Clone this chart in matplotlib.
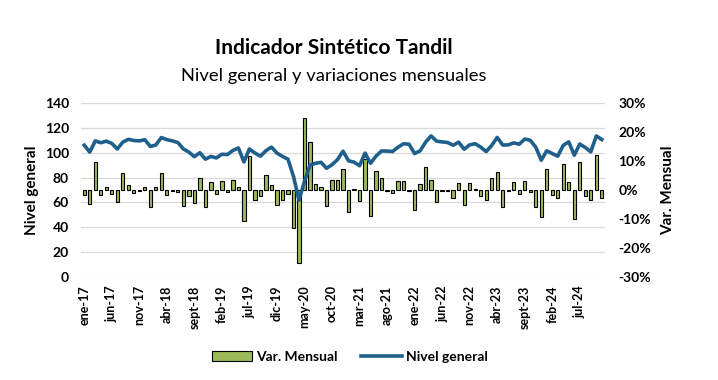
import numpy as np
import matplotlib
matplotlib.use("Agg")
import matplotlib.pyplot as plt
from matplotlib.patches import Patch
from matplotlib.lines import Line2D

# monthly data, ene-17 .. nov-24
meses = ["ene", "feb", "mar", "abr", "may", "jun", "jul", "ago", "sept", "oct", "nov", "dic"]
labels = [f"{meses[i % 12]}-{17 + i // 12}" for i in range(95)]

nivel_general = [
    106.0, 100.5, 109.5, 108.0, 109.3, 107.5, 103.0, 108.5, 110.8, 109.8,
    109.5, 110.5, 105.0, 106.2, 112.2, 110.5, 109.5, 108.2, 103.0, 100.5,
    96.8, 100.0, 94.8, 97.0, 95.8, 98.8, 98.5, 101.8, 103.8, 92.6,
    103.0, 99.7, 97.2, 101.6, 104.5, 99.7, 97.0, 94.8, 81.0, 61.8,
    77.0, 90.0, 91.5, 92.3, 87.5, 90.3, 94.5, 101.2, 93.5, 92.4,
    89.5, 99.7, 91.5, 97.3, 101.4, 101.3, 101.0, 104.5, 107.2, 106.8,
    99.3, 101.5, 108.5, 113.5, 109.3, 108.7, 108.2, 106.0, 108.5, 102.8,
    106.3, 107.2, 104.5, 100.9, 105.8, 112.3, 106.2, 106.3, 107.9, 106.8,
    111.0, 110.0, 104.5, 94.0, 101.5, 99.3, 97.2, 106.0, 108.7, 98.0,
    107.0, 104.2, 100.7, 113.5, 110.6,
]

var_mensual = [
    -1.7, -4.9, 9.5, -1.8, 0.9, -1.4, -4.1, 5.7, 1.6, -1.1,
    -0.2, 1.2, -6.0, 1.2, 5.7, -1.8, -0.2, -0.6, -5.6, -2.1,
    -4.6, 4.0, -6.0, 2.6, -1.4, 3.0, -0.8, 3.3, 1.2, -10.7,
    11.7, -3.6, -1.9, 5.0, 1.6, -5.0, -3.3, -1.4, -13.2, -25.3,
    24.7, 16.7, 1.9, 0.9, -5.6, 3.6, 3.3, 7.1, -7.6, 0.2,
    -3.8, 10.6, -8.8, 6.4, 4.3, -0.2, -1.1, 3.0, 3.0, -0.2,
    -7.0, 1.9, 7.8, 3.4, -4.3, -0.2, -0.2, -2.6, 2.4, -5.0,
    2.4, 0.5, -1.9, -3.6, 4.0, 6.2, -5.7, -0.2, 2.6, -1.4,
    3.0, -0.7, -6.0, -9.4, 7.4, -1.8, -2.9, 8.8, 2.6, -10.1,
    9.8, -2.1, -3.3, 11.9, -2.9,
]

left_ticks = [0, 20, 40, 60, 80, 100, 120, 140]
right_ticks = [-30, -20, -10, 0, 10, 20, 30]

GREEN = "#9bbb59"
BLUE = "#1f5f8b"
plt.rcParams["font.family"] = ["Lato", "DejaVu Sans"]

x = np.arange(len(labels))

fig = plt.figure(figsize=(7.18, 3.80), dpi=100)
ax = fig.add_axes([0.1135, 0.271, 0.7285, 0.458])
ax2 = ax.twinx()
ax3 = ax.twinx()

# left axis: grid only
ax.set_ylim(0, 140)
ax.set_yticks(left_ticks)
ax.set_yticklabels([str(v) for v in left_ticks], fontsize=10, fontweight="bold")
ax.grid(axis="y", color="#d9d9d9", linewidth=0.9)
ax.set_axisbelow(True)
ax.tick_params(axis="y", length=0, pad=9)
ax.set_ylabel("Nivel general", fontsize=11, fontweight="bold", labelpad=4)

# bars on the right axis
ax2.bar(x, var_mensual, width=0.6, color=GREEN, edgecolor="black", linewidth=0.8)
ax2.set_ylim(-30, 30)
ax2.set_yticks(right_ticks)
ax2.set_yticklabels([f"{v}%" for v in right_ticks], fontsize=10, fontweight="bold")
ax2.tick_params(axis="y", length=0, pad=10)
ax2.set_ylabel("Var. Mensual", fontsize=11, fontweight="bold", labelpad=7)

# line on top
ax3.plot(x, nivel_general, color=BLUE, linewidth=2.6, solid_joinstyle="round")
ax3.set_ylim(0, 140)
ax3.set_yticks([])

ax.set_xlim(-0.5, len(labels) - 0.5)
ax.set_xticks(x[::5])
ax.set_xticklabels(labels[::5], rotation=90, fontsize=9, fontweight="bold")
ax.tick_params(axis="x", length=0, pad=6)

for a in (ax, ax2, ax3):
    for s in a.spines.values():
        s.set_visible(False)

fig.text(0.465, 0.873, "Indicador Sintético Tandil", ha="center", va="center",
         fontsize=15, fontweight="bold")
fig.text(0.465, 0.800, "Nivel general y variaciones mensuales", ha="center", va="center",
         fontsize=13.2)

handles = [Patch(facecolor=GREEN, edgecolor="black", linewidth=0.8),
           Line2D([0], [0], color=BLUE, linewidth=2.6)]
fig.legend(handles, ["Var. Mensual", "Nivel general"], loc="center",
           bbox_to_anchor=(0.487, 0.06), ncol=2, frameon=False,
           prop={"weight": "bold", "size": 10}, handlelength=2.9,
           handletextpad=0.3, columnspacing=1.7)

fig.savefig("out.png", dpi=100)
